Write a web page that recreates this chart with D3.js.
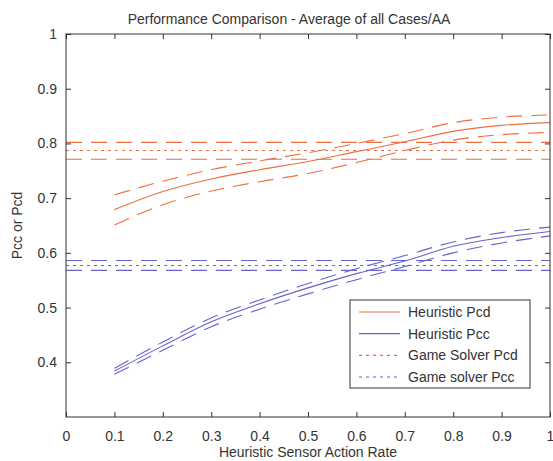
<!DOCTYPE html>
<html>
<head>
<meta charset="utf-8">
<script src="https://cdn.jsdelivr.net/npm/d3@7"></script>
<style>
  html, body { margin: 0; padding: 0; background: #fff; }
  svg { display: block; font-family: "Liberation Sans", Arial, sans-serif; }
</style>
</head>
<body>
<svg id="chart" width="553" height="461"></svg>
<script>
// Sensor action rates at which the heuristic was evaluated
const actionRate = [0.1, 0.2, 0.3, 0.4, 0.5, 0.6, 0.7, 0.8, 0.9, 1.0];

// Heuristic Pcd: mean and upper / lower bounds
const heurPcd      = [0.679, 0.712, 0.735, 0.752, 0.767, 0.785, 0.803, 0.822, 0.833, 0.838];
const heurPcdUpper = [0.706, 0.731, 0.752, 0.768, 0.783, 0.800, 0.818, 0.838, 0.848, 0.852];
const heurPcdLower = [0.651, 0.688, 0.713, 0.730, 0.745, 0.765, 0.787, 0.806, 0.816, 0.820];

// Heuristic Pcc: mean and upper / lower bounds
const heurPcc      = [0.384, 0.430, 0.474, 0.507, 0.536, 0.562, 0.585, 0.612, 0.628, 0.639];
const heurPccUpper = [0.389, 0.437, 0.481, 0.514, 0.544, 0.571, 0.595, 0.620, 0.637, 0.647];
const heurPccLower = [0.378, 0.422, 0.465, 0.497, 0.525, 0.551, 0.575, 0.600, 0.618, 0.631];

// Game solver results are constant across the action rate: [lower, mean, upper]
const solverPcd = [0.771, 0.787, 0.802];
const solverPcc = [0.568, 0.577, 0.586];

// Axis ticks
const xTicks = [0, 0.1, 0.2, 0.3, 0.4, 0.5, 0.6, 0.7, 0.8, 0.9, 1];
const yTicks = [0.4, 0.5, 0.6, 0.7, 0.8, 0.9, 1];

const legendLabels = ["Heuristic Pcd", "Heuristic Pcc", "Game Solver Pcd", "Game solver Pcc"];

const orange = "#ef6e3e";
const blue = "#6464cc";
const ink = "#333";
const fontSize = "14px";

const svg = d3.select("#chart");
const plot = { left: 66, right: 550, top: 34, bottom: 417 };

const x = d3.scaleLinear().domain([0, 1]).range([plot.left, plot.right]);
const y = d3.scaleLinear().domain([0.3, 1]).range([plot.bottom, plot.top]);

const line = d3.line().x(d => x(d[0])).y(d => y(d[1])).curve(d3.curveMonotoneX);
const series = vals => actionRate.map((r, i) => [r, vals[i]]);

const curves = svg.append("g").attr("fill", "none").attr("stroke-width", 1.1);

// Game solver constant levels across the whole x range
function level(v, color, dash) {
  curves.append("path")
    .attr("d", line([[0, v], [1, v]]))
    .attr("stroke", color).attr("stroke-dasharray", dash);
}
level(solverPcd[0], orange, "16,9");
level(solverPcd[1], orange, "3,4");
level(solverPcd[2], orange, "16,9");
level(solverPcc[0], blue, "16,9");
level(solverPcc[1], blue, "3,4");
level(solverPcc[2], blue, "16,9");

// Heuristic curves
function curve(vals, color, dash) {
  curves.append("path")
    .attr("d", line(series(vals)))
    .attr("stroke", color)
    .attr("stroke-dasharray", dash || null);
}
curve(heurPcdUpper, orange, "16,9");
curve(heurPcd, orange);
curve(heurPcdLower, orange, "16,9");
curve(heurPccUpper, blue, "16,9");
curve(heurPcc, blue);
curve(heurPccLower, blue, "16,9");

// Axes with inward ticks on all four sides
const tickLen = 5;
const axisStyle = g => {
  g.select(".domain").remove();
  g.selectAll("line").attr("stroke", ink);
  g.selectAll("text").attr("fill", ink).style("font-size", fontSize);
};

svg.append("g")
  .attr("transform", `translate(0,${plot.bottom})`)
  .call(d3.axisBottom(x).tickValues(xTicks).tickSize(-tickLen).tickPadding(14)
    .tickFormat(d => d === 0 || d === 1 ? String(d) : d3.format(".1f")(d)))
  .call(axisStyle);

svg.append("g")
  .attr("transform", `translate(0,${plot.top})`)
  .call(d3.axisTop(x).tickValues(xTicks).tickSize(-tickLen).tickFormat(""))
  .call(axisStyle);

svg.append("g")
  .attr("transform", `translate(${plot.left},0)`)
  .call(d3.axisLeft(y).tickValues(yTicks).tickSize(-tickLen).tickPadding(9)
    .tickFormat(d => d === 1 ? "1" : d3.format(".1f")(d)))
  .call(axisStyle);

svg.append("g")
  .attr("transform", `translate(${plot.right},0)`)
  .call(d3.axisRight(y).tickValues(yTicks).tickSize(-tickLen).tickFormat(""))
  .call(axisStyle);

svg.append("rect")
  .attr("x", plot.left).attr("y", plot.top)
  .attr("width", plot.right - plot.left).attr("height", plot.bottom - plot.top)
  .attr("fill", "none").attr("stroke", ink).attr("stroke-width", 1);

// Titles
svg.append("text")
  .attr("x", 289).attr("y", 24)
  .attr("text-anchor", "middle").attr("fill", ink).style("font-size", fontSize)
  .text("Performance Comparison - Average of all Cases/AA");

svg.append("text")
  .attr("x", (plot.left + plot.right) / 2).attr("y", 457)
  .attr("text-anchor", "middle").attr("fill", ink).style("font-size", fontSize)
  .text("Heuristic Sensor Action Rate");

svg.append("text")
  .attr("transform", `translate(22,${(plot.top + plot.bottom) / 2}) rotate(-90)`)
  .attr("text-anchor", "middle").attr("fill", ink).style("font-size", fontSize)
  .text("Pcc or Pcd");

// Legend
const legend = svg.append("g").attr("transform", "translate(350,300)");
legend.append("rect")
  .attr("width", 180).attr("height", 88)
  .attr("fill", "#fff").attr("stroke", ink).attr("stroke-width", 1);

const legendStyles = [
  { color: orange, dash: null },
  { color: blue, dash: null },
  { color: orange, dash: "3,4" },
  { color: blue, dash: "3,4" }
];
const rowY = d3.scalePoint().domain(legendLabels).range([12, 77]);

legendLabels.forEach((label, i) => {
  const ry = rowY(label);
  legend.append("line")
    .attr("x1", 9).attr("x2", 50).attr("y1", ry).attr("y2", ry)
    .attr("stroke", legendStyles[i].color).attr("stroke-width", 1.1)
    .attr("stroke-dasharray", legendStyles[i].dash);
  legend.append("text")
    .attr("x", 58).attr("y", ry).attr("dy", "0.35em")
    .attr("fill", ink).style("font-size", fontSize)
    .text(label);
});
</script>
</body>
</html>
